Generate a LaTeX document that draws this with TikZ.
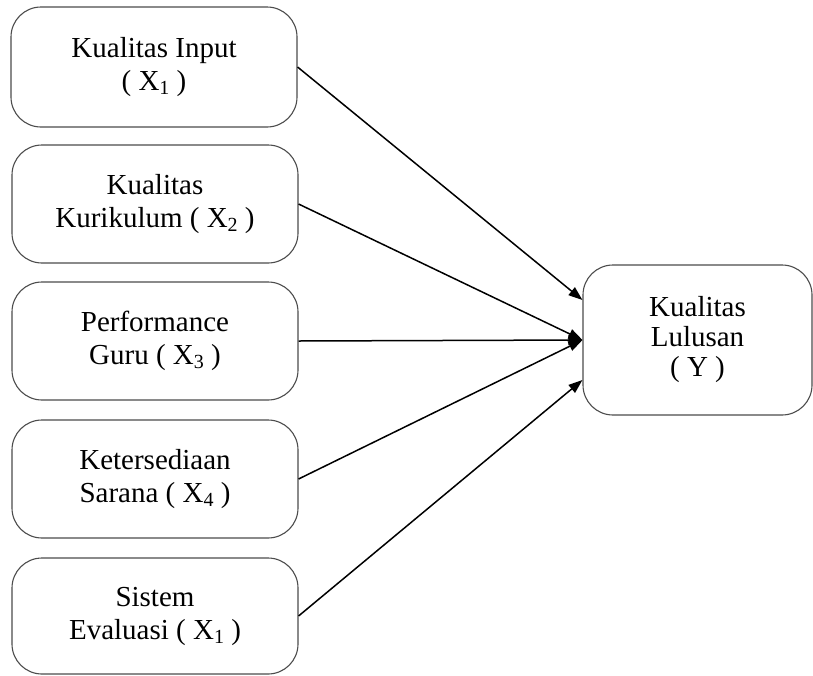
\documentclass[tikz,border=0pt]{standalone}
\usepackage{fontspec}
\setmainfont{Liberation Serif}
\usetikzlibrary{arrows.meta,calc}
% lowered index digit, as in X_1
\newcommand\idx[1]{\raisebox{-0.3ex}{\fontsize{20}{20}\selectfont #1}}
\begin{document}
\begin{tikzpicture}[x=1pt,y=-1pt,
  varbox/.style={draw=black!70,line width=1.1pt,rounded corners=30pt,
    minimum width=286pt,align=center,inner sep=0pt,
    font=\fontsize{29}{33}\selectfont},
  link/.style={line width=1.5pt,-{Triangle[length=14pt,width=10pt]}}]
\useasboundingbox (0,0) rectangle (813,675);
\node[varbox,minimum height=120pt] (x1) at (154,67) {Kualitas Input\\( X\idx{1} )};
\node[varbox,minimum height=118pt] (x2) at (155,204) {Kualitas\\Kurikulum ( X\idx{2} )};
\node[varbox,minimum height=118pt] (x3) at (155,341) {Performance\\Guru ( X\idx{3} )};
\node[varbox,minimum height=118pt] (x4) at (155,479) {Ketersediaan\\Sarana ( X\idx{4} )};
\node[varbox,minimum height=116pt] (x5) at (155,616) {Sistem\\Evaluasi ( X\idx{1} )};
\node[varbox,minimum width=229pt,minimum height=150pt,
  font=\fontsize{29}{30}\selectfont] (y) at (697.5,340) {Kualitas\\Lulusan\\( Y )};
% arrow end points on the left side of the outcome box
\coordinate (ytop) at ($(y.west)+(0,-40)$);
\coordinate (ymid) at (y.west);
\coordinate (ybot) at ($(y.west)+(0,40)$);
\draw[link] (x1.east) -- (ytop);
\draw[link] (x2.east) -- (ymid);
\draw[link] (x3.east) -- (ymid);
\draw[link] (x4.east) -- (ymid);
\draw[link] (x5.east) -- (ybot);
\end{tikzpicture}
\end{document}
